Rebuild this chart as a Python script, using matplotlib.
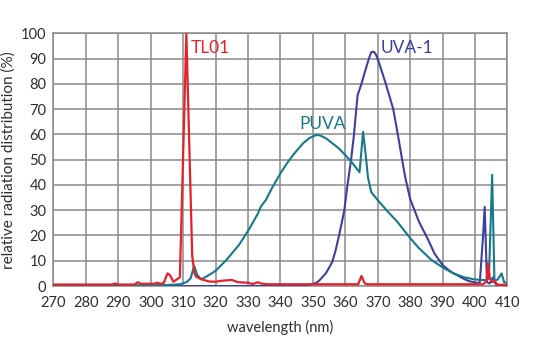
import matplotlib
matplotlib.use('Agg')
import matplotlib.pyplot as plt

# TL01 lamp (narrowband UVB)
tl01_wl = [270, 288, 289, 290, 295, 296, 297, 301, 302, 303, 304, 305.2, 306, 307, 308.5,
           309, 311, 312.8, 313.5, 314, 315.5, 318, 320, 322, 325, 327, 330, 331.5, 333,
           334, 336, 364, 365, 366, 367, 402.5, 403.6, 404, 404.6, 405.3, 406, 407, 410]
tl01_val = [0.6, 0.6, 1.0, 0.6, 0.6, 1.5, 0.9, 0.9, 1.3, 0.9, 1.2, 5.0, 4.2, 1.7, 3.0,
            3.5, 100, 12, 5.0, 3.7, 2.7, 1.8, 1.7, 2.1, 2.4, 1.5, 1.3, 0.8, 1.5,
            1.0, 0.7, 0.7, 4.0, 1.0, 0.7, 0.7, 2.0, 9.0, 3.0, 1.5, 2.0, 0.5, 0.5]

# PUVA lamp
puva_wl = [270, 300, 305, 309, 311, 312.3, 313.4, 314.3, 315.5, 317, 320, 323.4, 327.3,
           330.3, 333, 334, 335.5, 337.5, 340.2, 342, 344, 347, 349, 351, 352, 354, 356,
           358, 360, 362, 364.4, 365.5, 366.3, 367, 368, 370, 373, 376, 380, 382.7, 386.6,
           390, 393.4, 396.8, 400, 402, 403.5, 404.3, 405.3, 406, 407, 408.2, 409, 410]
puva_val = [0.3, 0.3, 0.4, 0.7, 1.5, 3.0, 8.0, 4.5, 2.7, 3.6, 6.0, 10.4, 16.4,
            22.4, 28.5, 31.5, 34, 39, 45, 48.5, 52, 56.5, 58.6, 59.7, 59.7, 58.5, 56.5,
            54.5, 51.8, 49, 45, 61, 52, 43, 37.2, 34, 29.6, 25.5, 19, 15, 10.3,
            7.4, 5.0, 3.4, 2.6, 2.4, 2.3, 3.0, 44, 2.3, 2.5, 5.0, 1.5, 1.2]

# UVA-1 lamp
uva1_wl = [270, 345, 347, 349, 351, 352, 354, 356, 357, 358, 359, 359.7, 360.7, 361.8,
           362.7, 363.4, 363.8, 365, 366, 367.3, 368, 368.8, 369.5, 370.5, 372.5, 374.8,
           376.2, 377.4, 378.5, 380, 382.7, 385.5, 387.5, 390, 392.5, 396.3, 398, 400.7,
           401.5, 402.5, 403, 403.7, 404.5, 405.6, 406.3, 407, 410]
uva1_val = [0.0, 0.0, 0.1, 0.5, 1.2, 2.2, 5.0, 9.5, 14, 19.5, 25.5, 30, 40, 50,
            60, 70, 75.5, 80, 84.5, 90, 92.5, 92.7, 91.5, 88, 80, 70,
            60, 51, 43, 34.5, 25.5, 18.5, 12.9, 8.3, 5.7, 3.0, 2.0, 1.2,
            1.5, 20, 31.3, 1.5, 1.0, 3.5, 1.0, 0.0, 0.0]

RED = '#e8202a'
TEAL = '#16798a'
BLUE = '#3d40a3'
GRID = '#8a8a8a'
TXT = '#2e2e2e'

plt.rcParams['font.family'] = ['Lato', 'DejaVu Sans']

fig = plt.figure(figsize=(5.45, 3.54), dpi=100)
ax = fig.add_axes([0.098, 0.192, 0.833, 0.714])

ax.plot(uva1_wl, uva1_val, color=BLUE, lw=1.5, zorder=3)
ax.plot(puva_wl, puva_val, color=TEAL, lw=1.5, zorder=4)
ax.plot(tl01_wl, tl01_val, color=RED, lw=1.6, zorder=5)

ax.set_xlim(270, 410)
ax.set_ylim(0, 100)
ax.set_xticks(range(270, 411, 10))
ax.set_yticks(range(0, 101, 10))
ax.grid(True, color=GRID, lw=1.1)
ax.set_axisbelow(True)
for s in ax.spines.values():
    s.set_color(GRID)
    s.set_linewidth(1.1)
ax.tick_params(length=0, labelsize=10.5, colors=TXT)
ax.tick_params(axis='x', pad=7)
ax.tick_params(axis='y', pad=5)

ax.text(312.3, 94, 'TL01', color=RED, fontsize=12.5, va='center', ha='left')
ax.text(371, 94, 'UVA-1', color=BLUE, fontsize=12.5, va='center', ha='left')
ax.text(345.8, 64, 'PUVA', color=TEAL, fontsize=12.5, va='center', ha='left')

ax.set_xlabel('wavelength (nm)', fontsize=10.5, color=TXT, labelpad=7)
ax.set_ylabel('relative radiation distribution (%)', fontsize=11, color=TXT, labelpad=4)

fig.savefig('out.png', dpi=100)
